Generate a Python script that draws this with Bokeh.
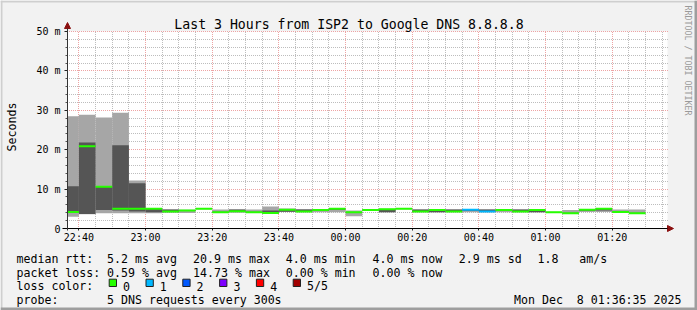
import math
import re
import pandas as pd
from bokeh.plotting import figure
from bokeh.models import (Range1d, Label, Arrow, NormalHead, BoxAnnotation, ColumnDataSource)
from bokeh.core.properties import value
from bokeh.embed import file_html
from bokeh.resources import INLINE

# ---------------- data ----------------
title_text = "Last 3 Hours from ISP2 to Google DNS 8.8.8.8"
y_label = "Seconds"
credit = "RRDTOOL / TOBI OETIKER"
window_start = "2025-12-07 22:36:35"
window_end = "2025-12-08 01:36:35"
first_step = "2025-12-07 22:35:00"
step_minutes = 5

# sorted pings per 5-minute step (ms): min, 2nd, median, 4th, max
ping_1 = [3.0, 3.6, 3.9, 3.9, 3.9, 3.9, 4.1, 3.95, 4.9, 4.0, 4.0, 4.0, 3.75, 4.2, 4.1, 4.1, 4.1, 3.1,
          4.6, 4.1, 4.9, 4.1, 4.1, 4.1, 4.1, 4.15, 4.1, 4.1, 4.1, 4.05, 3.8, 4.2, 4.2, 4.1, 3.8]
ping_2 = [4.0, 3.7, 4.7, 4.6, 4.3, 4.1, 4.15, 4.45, 4.95, 4.05, 4.2, 4.05, 3.85, 4.25, 4.2, 4.45, 4.75, 4.0,
          4.65, 4.15, 4.95, 4.2, 4.15, 4.2, 4.45, 4.2, 4.45, 4.2, 4.15, 4.1, 3.85, 4.5, 4.6, 4.15, 3.85]
rtt_median = [4.2, 20.9, 10.6, 5.0, 5.0, 5.0, 4.3, 4.6, 5.0, 4.1, 4.35, 4.1, 3.95, 4.75, 4.3, 4.7, 5.0, 4.1,
              4.7, 4.9, 5.0, 4.3, 4.7, 4.3, 4.75, 4.3, 4.7, 4.3, 4.7, 4.15, 3.9, 4.75, 5.0, 4.2, 3.9]
ping_4 = [10.7, 21.8, 10.7, 21.1, 11.5, 5.05, 4.8, 4.7, 5.05, 4.25, 4.8, 4.25, 4.6, 4.85, 4.85, 4.75, 5.05, 4.2,
          4.75, 4.95, 5.05, 4.8, 4.75, 4.8, 4.8, 4.8, 4.75, 4.8, 4.75, 4.2, 4.0, 4.8, 5.05, 4.3, 4.0]
ping_5 = [28.5, 28.9, 28.2, 29.4, 12.2, 5.1, 4.85, 4.75, 5.1, 4.85, 4.85, 4.85, 5.6, 5.1, 4.9, 4.8, 5.1, 4.6,
          4.8, 5.0, 5.1, 4.85, 4.8, 4.85, 4.85, 4.85, 4.8, 4.85, 4.8, 4.25, 4.7, 4.85, 5.1, 4.8, 4.8]
lost_pings = [0, 0, 0, 0, 0, 0, 0, 0, 0, 0, 0, 0, 0, 0, 0, 0, 0, 0,
              0, 0, 0, 0, 0, 0, 1, 1, 0, 0, 0, 0, 0, 0, 0, 0, 0]

loss_labels = ["0", "1", "2", "3", "4", "5/5"]
loss_colors = ["#26ff00", "#00b8ff", "#0059ff", "#7e00ff", "#ff0000", "#a10000"]

y_ticks = [0, 10, 20, 30, 40, 50]
y_tick_labels = ["0", "10 m", "20 m", "30 m", "40 m", "50 m"]
y_minor_step = 2
x_major_minutes = 20
x_minor_minutes = 5

rtt_label = "median rtt:"
rtt_stats = ["5.2 ms avg", "20.9 ms max", "4.0 ms min", "4.0 ms now", "2.9 ms sd", "1.8   am/s"]
loss_label = "packet loss:"
loss_stats = ["0.59 % avg", "14.73 % max", "0.00 % min", "0.00 % now"]
color_label = "loss color:"
probe_label = "probe:"
probe_text = "5 DNS requests every 300s"
stamp_text = "Mon Dec  8 01:36:35 2025"

# ---------------- layout / styles ----------------
W, H = 697, 310
PLOT_L, PLOT_R, PLOT_T, PLOT_B = 67, 667, 31, 228   # pixel box of the graph area
BG = "#f2f2f2"
LIGHT = "#a6a6a6"
DARK = "#555555"
ARROW = "#8b1010"
MGRID = "#eda4a4"
GRID = "#bdbdbd"
MONO = "DejaVu Sans Mono"
CW = 6.97          # advance of one legend character (px)
DASH = "1 1"
HALF = 0.5         # half-pixel shift of dash phase

t0 = pd.Timestamp(window_start)
t1 = pd.Timestamp(window_end)
x0_ms = t0.value / 1e6
x1_ms = t1.value / 1e6
ms_per_px = (x1_ms - x0_ms) / (PLOT_R - PLOT_L)
y_top = y_ticks[-1]
units_per_px = y_top / (PLOT_B - PLOT_T)

x_range = Range1d(x0_ms - PLOT_L * ms_per_px, x1_ms + (W - PLOT_R) * ms_per_px)
y_range = Range1d(-(H - PLOT_B) * units_per_px, y_top + PLOT_T * units_per_px)

p = figure(width=W, height=H, x_axis_type=None, y_axis_type=None, output_backend="svg",
           toolbar_location=None, x_range=x_range, y_range=y_range, min_border=0)
p.background_fill_color = BG
p.border_fill_color = BG
p.outline_line_color = None
p.xgrid.visible = False
p.ygrid.visible = False


def sx(cx):
    return cx


def sy(cy):
    return H - cy


def snap_y(v):
    """Snap a grid value to the nearest device pixel row (as rrdtool does)."""
    py = round(PLOT_B - v / units_per_px)
    return (PLOT_B - py) * units_per_px


def snap_x(t):
    px = round((pd.Timestamp(t).value / 1e6 - x0_ms) / ms_per_px)
    return x0_ms + px * ms_per_px


# white canvas of the graph
p.add_layout(BoxAnnotation(left=x0_ms, right=x1_ms, bottom=0, top=y_top, fill_color="white",
                           fill_alpha=1.0, line_color=None, level="underlay"))

# grid
x_major = pd.date_range(t0.ceil(f"{x_major_minutes}min"), t1, freq=f"{x_major_minutes}min")
x_minor_all = pd.date_range(t0.ceil(f"{x_minor_minutes}min"), t1, freq=f"{x_minor_minutes}min")
x_minor = [t for t in x_minor_all if t not in set(x_major)]
y_minor = [v for v in range(0, y_top + 1, y_minor_step) if v not in y_ticks]

gy0 = -HALF * units_per_px
gx_start = x1_ms + HALF * ms_per_px      # horizontal lines drawn right-to-left
grid_kw = dict(line_dash=DASH, line_width=1)
xmin_s = [snap_x(t) for t in x_minor]
xmaj_s = [snap_x(t) for t in x_major]
ymin_s = [snap_y(v) for v in y_minor]
ymaj_s = [snap_y(v) for v in y_ticks[1:]]
p.segment(x0=xmin_s, x1=xmin_s, y0=gy0, y1=y_top, line_color=GRID, **grid_kw)
p.segment(x0=gx_start, x1=x0_ms, y0=ymin_s, y1=ymin_s, line_color=GRID, **grid_kw)
p.segment(x0=xmaj_s, x1=xmaj_s, y0=gy0, y1=y_top, line_color=MGRID, **grid_kw)
p.segment(x0=gx_start, x1=x0_ms, y0=ymaj_s, y1=ymaj_s, line_color=MGRID, **grid_kw)

# smoke + median
times = pd.date_range(first_step, periods=len(rtt_median), freq=f"{step_minutes}min")
ends = times + pd.Timedelta(minutes=step_minutes)
src = ColumnDataSource(dict(
    left=[max(t, t0) for t in times], right=ends, p1=ping_1, p2=ping_2, med=rtt_median,
    p4=ping_4, p5=ping_5, col=[loss_colors[k] for k in lost_pings],
))
p.quad(left="left", right="right", bottom="p1", top="p5", source=src,
       fill_color=LIGHT, line_color=None)
p.quad(left="left", right="right", bottom="p2", top="p4", source=src,
       fill_color=DARK, line_color=None)
p.segment(x0="left", x1="right", y0="med", y1="med", source=src,
          line_color="col", line_width=2)

# axes with arrows
p.add_layout(Arrow(end=NormalHead(size=6, fill_color=ARROW, line_color=ARROW, line_width=1),
                   x_start=x0_ms - 5 * ms_per_px, y_start=0, x_end=x1_ms + 6 * ms_per_px, y_end=0,
                   line_color="black", line_width=1))
p.add_layout(Arrow(end=NormalHead(size=6, fill_color=ARROW, line_color=ARROW, line_width=1),
                   x_start=x0_ms, y_start=-2 * units_per_px, x_end=x0_ms, y_end=y_top + 9 * units_per_px,
                   line_color="#333333", line_width=1))

# tick marks
p.segment(x0=x0_ms - 3 * ms_per_px, x1=x0_ms, y0=[snap_y(v) for v in y_ticks],
          y1=[snap_y(v) for v in y_ticks], line_color="#222222", line_width=1)
p.segment(x0=x0_ms - 2 * ms_per_px, x1=x0_ms, y0=ymin_s, y1=ymin_s, line_color="#555555", line_width=1)
p.segment(x0=xmaj_s, x1=xmaj_s, y0=-2 * units_per_px, y1=0, line_color="#222222", line_width=1)

# tick labels
p.text(x=x0_ms, y=y_ticks, text=y_tick_labels, x_offset=-7, text_align="right",
       text_baseline="middle", text_font=value(MONO), text_font_size="10px", text_color="black")
p.text(x=list(x_major), y=0, text=[t.strftime("%H:%M") for t in x_major], y_offset=3,
       text_align="center", text_baseline="top", text_font=value(MONO), text_font_size="10px",
       text_color="black")


def label(cx, cy, text, size="11.6px", align="left", baseline="alphabetic", angle=0.0, color="black"):
    p.add_layout(Label(x=sx(cx), y=sy(cy), x_units="screen", y_units="screen", text=text,
                       text_font=MONO, text_font_size=size, text_align=align,
                       text_baseline=baseline, angle=angle, text_color=color))


def mono_label(cx, cy, text):
    """Left-aligned monospaced text; runs of spaces are kept by placing the pieces apart."""
    for m in re.finditer(r"\S+(?: \S+)*", text):
        label(cx + m.start() * CW, cy, m.group())


label(348.5, 24, title_text, size="13.2px", align="center")
label(11, 126.5, y_label, align="center", baseline="middle", angle=math.pi / 2)
label(687.5, 60, credit, size="8.3px", align="center", baseline="middle", angle=-math.pi / 2,
      color="#9a9a9a")

col_x = [106.6, 192.6, 285.3, 372.0, 458.3, 537.0]
mono_label(16, 258.3, rtt_label)
for cx, s in zip(col_x, rtt_stats):
    mono_label(cx, 258.3, s)
mono_label(16, 272.0, loss_label)
for cx, s in zip(col_x, loss_stats):
    mono_label(cx, 272.0, s)
mono_label(16, 285.7, color_label)
for i, (lab, c) in enumerate(zip(loss_labels, loss_colors)):
    left = 108.7 + 36.8 * i
    p.add_layout(BoxAnnotation(left=sx(left), right=sx(left + 7.3), top=sy(278.7), bottom=sy(286),
                               left_units="screen", right_units="screen", top_units="screen",
                               bottom_units="screen", fill_color=c, fill_alpha=1.0,
                               line_color="#222222", line_width=1, line_alpha=1.0))
    mono_label(left + 13.8, 285.7, lab)
mono_label(16, 299.3, probe_label)
mono_label(106.6, 299.3, probe_text)
mono_label(680.8 - len(stamp_text) * CW, 299.3, stamp_text)

# 3D border of the image
for (l, r, t, b, c) in [(0, W, 0, 2, "#cfcfcf"), (0, 2, 0, H, "#cfcfcf"),
                        (W - 3, W, 0, H, "#9e9e9e"), (0, W, H - 3, H, "#9e9e9e")]:
    p.add_layout(BoxAnnotation(left=sx(l), right=sx(r), top=sy(t), bottom=sy(b),
                               left_units="screen", right_units="screen", top_units="screen",
                               bottom_units="screen", fill_color=c, fill_alpha=1.0,
                               line_color=None))

open("out.html", "w").write(file_html(p, INLINE))
